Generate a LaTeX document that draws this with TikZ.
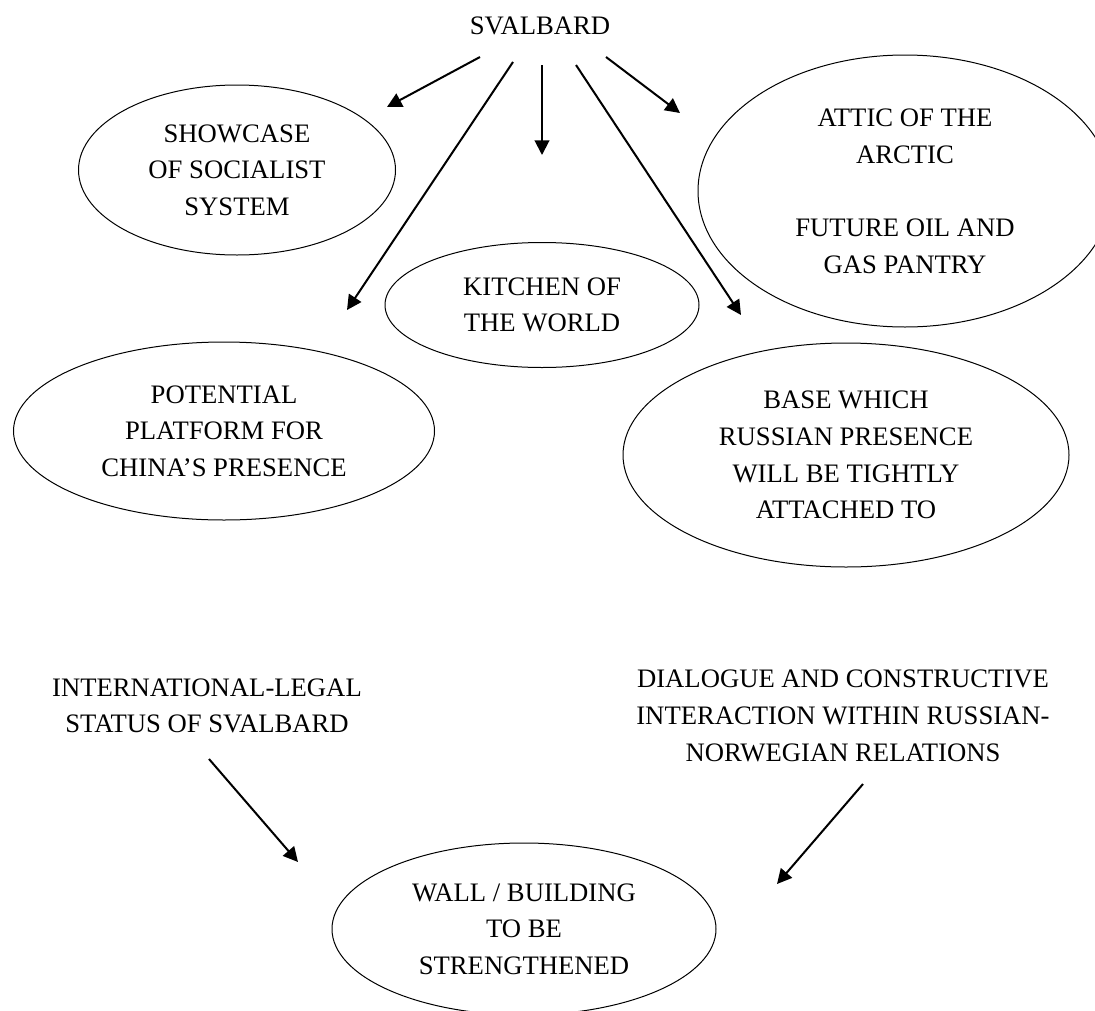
\documentclass[tikz,border=0pt]{standalone}
\usepackage{fontspec}
\setmainfont{Liberation Serif}
\usetikzlibrary{shapes.geometric,arrows.meta}
\begin{document}
\begin{tikzpicture}[x=0.75pt,y=-0.75pt,
  caption/.style={font=\fontsize{20}{27.5}\selectfont, align=center, inner sep=0pt},
  bubble/.style={caption, draw, ellipse, line width=0.75pt},
  pointer/.style={line width=1.5pt, -{Triangle[length=11pt,width=11pt]}}]
\useasboundingbox (0,0) rectangle (1095,1010);
\clip (0,0) rectangle (1095,1010);

% central term
\node[caption] (svalbard) at (540,26) {SVALBARD};

% images of the archipelago
\node[bubble, minimum width=237.75pt, minimum height=127.5pt] (showcase) at (237,170)
  {SHOWCASE\\OF SOCIALIST\\SYSTEM};
\node[bubble, minimum width=235.5pt, minimum height=93.75pt] (kitchen) at (542,305)
  {KITCHEN OF\\THE WORLD};
\node[bubble, minimum width=310.5pt, minimum height=204pt] (attic) at (905,191)
  {ATTIC OF THE\\ARCTIC\\[27.5pt]FUTURE OIL AND\\GAS PANTRY};
\node[bubble, minimum width=315.75pt, minimum height=133.5pt] (potential) at (224,431)
  {POTENTIAL\\PLATFORM FOR\\CHINA’S PRESENCE};
\node[bubble, minimum width=334.5pt, minimum height=168pt] (base) at (846,455)
  {BASE WHICH\\RUSSIAN PRESENCE\\WILL BE TIGHTLY\\ATTACHED TO};

% lower part
\node[caption] (legal) at (207,706) {INTERNATIONAL-LEGAL\\STATUS OF SVALBARD};
\node[caption] (dialogue) at (843,716)
  {DIALOGUE AND CONSTRUCTIVE\\INTERACTION WITHIN RUSSIAN-\\NORWEGIAN RELATIONS};
\node[bubble, minimum width=288pt, minimum height=129pt] (wall) at (524,929)
  {WALL / BUILDING\\TO BE\\STRENGTHENED};

% arrow end points
\coordinate (sv-1) at (480,57);   \coordinate (to-showcase)  at (387,107);
\coordinate (sv-2) at (513,62);   \coordinate (to-potential) at (347,310);
\coordinate (sv-3) at (542,65);   \coordinate (to-kitchen)   at (542,155);
\coordinate (sv-4) at (576,65);   \coordinate (to-base)      at (741,315);
\coordinate (sv-5) at (606,57);   \coordinate (to-attic)     at (680,113);
\coordinate (legal-out) at (209,759);    \coordinate (wall-in-l) at (298,862);
\coordinate (dialogue-out) at (863,784); \coordinate (wall-in-r) at (777,884);

\draw[pointer] (sv-1) -- (to-showcase);
\draw[pointer] (sv-2) -- (to-potential);
\draw[pointer] (sv-3) -- (to-kitchen);
\draw[pointer] (sv-4) -- (to-base);
\draw[pointer] (sv-5) -- (to-attic);
\draw[pointer] (legal-out) -- (wall-in-l);
\draw[pointer] (dialogue-out) -- (wall-in-r);
\end{tikzpicture}
\end{document}
